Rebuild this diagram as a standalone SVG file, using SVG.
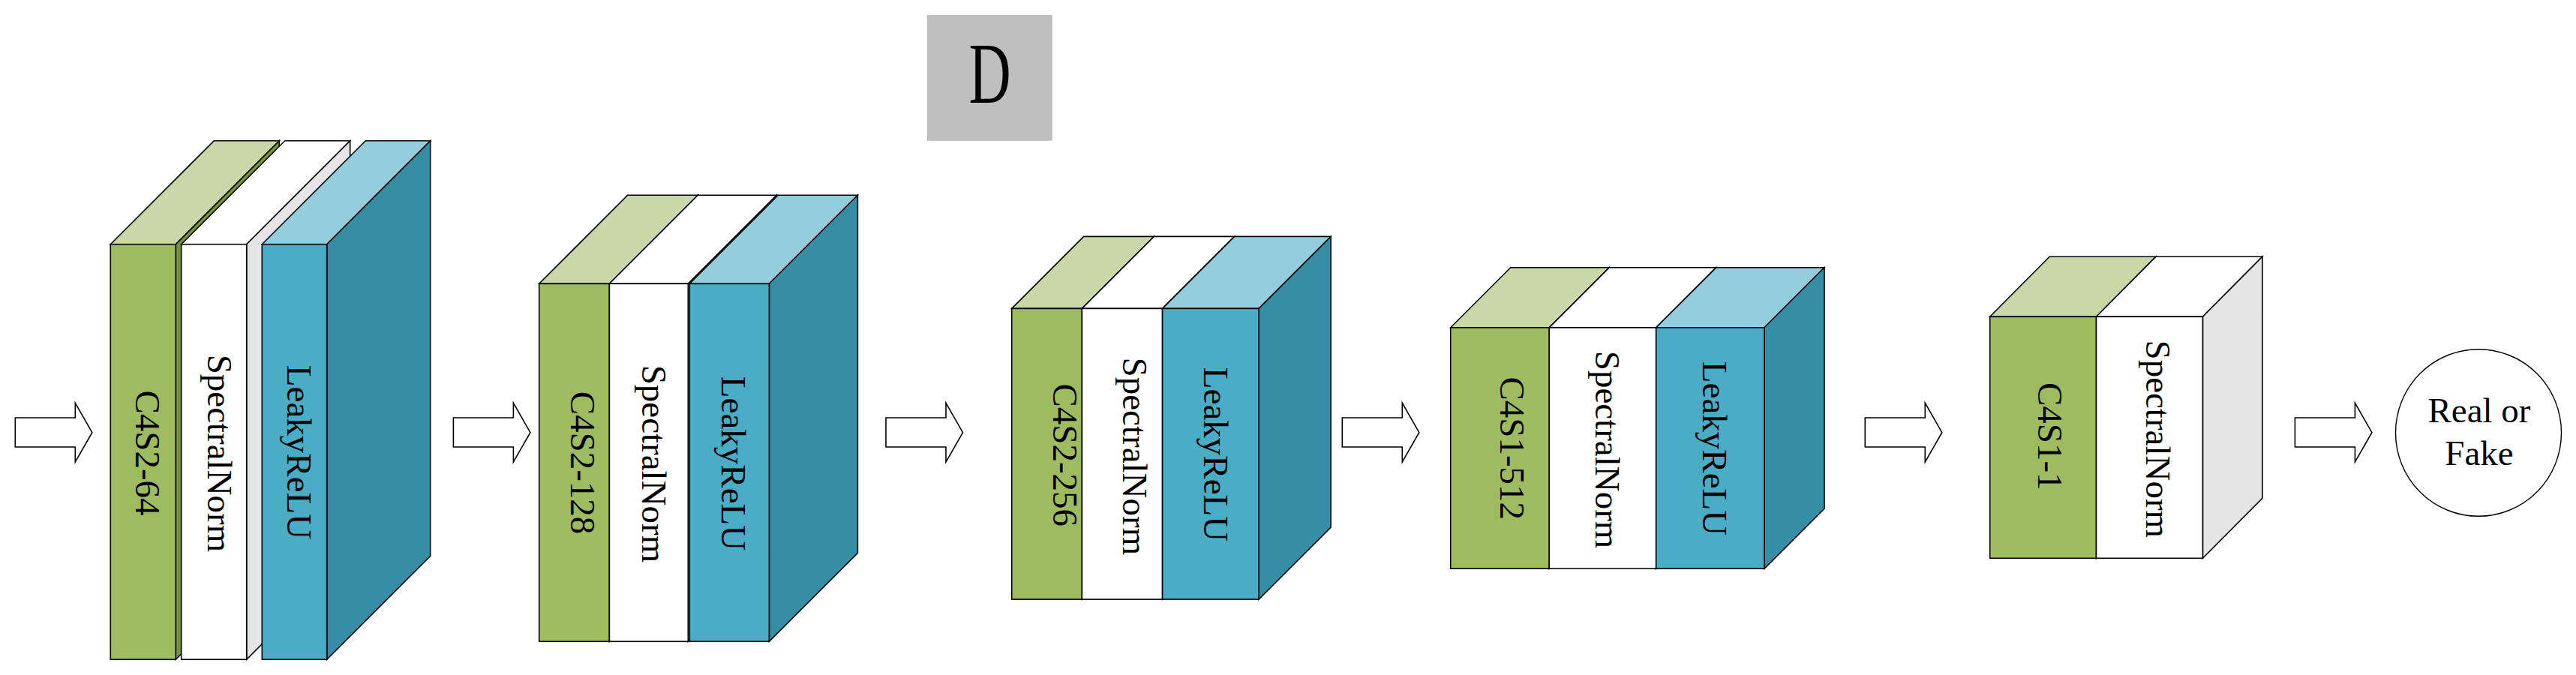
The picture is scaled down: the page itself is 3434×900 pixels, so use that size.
<svg xmlns="http://www.w3.org/2000/svg" xmlns:xlink="http://www.w3.org/1999/xlink" width="3434" height="900" viewBox="0 0 3434 900">
<style>
  .st { stroke: #000; stroke-width: 1.6; stroke-linejoin: miter; }
  .gf { fill: #9EBB60; }
  .gt { fill: #C8D8A8; }
  .gs { fill: #77933C; }
  .wf { fill: #FFFFFF; }
  .wt { fill: #FFFFFF; }
  .ws { fill: #E5E5E5; }
  .bf { fill: #4BACC6; }
  .bt { fill: #94CEDC; }
  .bs { fill: #368EA6; }
  .lbl { font-family: "Liberation Serif", "Times New Roman", serif; font-size: 47px; fill: #000; text-anchor: middle; }
  .arrow { fill: #FFFFFF; stroke: #000; stroke-width: 1.6; }
</style>
<defs>
  <path id="blockArrow" d="M0,0 H80 V-19.7 L102.5,19.7 L80,59 V39 H0 Z"/>
</defs>
<rect width="3434" height="900" fill="#FFFFFF"/>

<g id="title">
  <rect x="1236" y="20" width="166.7" height="167.7" fill="#BFBFBF"/>
  <text class="lbl" transform="translate(1319.5,136.7) scale(0.67,1)" style="font-size:116px">D</text>
</g>

<g id="connectors">
  <use xlink:href="#blockArrow" class="arrow" x="20.3" y="557"/>
  <use xlink:href="#blockArrow" class="arrow" x="604.4" y="557"/>
  <use xlink:href="#blockArrow" class="arrow" x="1181" y="557"/>
  <use xlink:href="#blockArrow" class="arrow" x="1789.3" y="557"/>
  <use xlink:href="#blockArrow" class="arrow" x="2486.3" y="557"/>
  <use xlink:href="#blockArrow" class="arrow" x="3059.4" y="557"/>
</g>

<g id="block1">
  <polygon class="gt st" points="147.3,325.7 285.3,187.7 372.3,187.7 234.3,325.7"/>
  <polygon class="gs st" points="234.3,325.7 372.3,187.7 372.3,741.3 234.3,879.3"/>
  <rect class="gf st" x="147.3" y="325.7" width="87" height="553.6"/>
  <polygon class="wt st" points="241.7,325.7 379.7,187.7 466.7,187.7 328.7,325.7"/>
  <polygon class="ws st" points="328.7,325.7 466.7,187.7 466.7,741.3 328.7,879.3"/>
  <rect class="wf st" x="241.7" y="325.7" width="87" height="553.6"/>
  <polygon class="bt st" points="349.3,325.7 487.3,187.7 573.7,187.7 435.7,325.7"/>
  <polygon class="bs st" points="435.7,325.7 573.7,187.7 573.7,741.3 435.7,879.3"/>
  <rect class="bf st" x="349.3" y="325.7" width="86.4" height="553.6"/>
  <text class="lbl" transform="translate(181,604) rotate(90)">C4S2-64</text>
  <text class="lbl" transform="translate(276.7,604.5) rotate(90)">SpectralNorm</text>
  <text class="lbl" transform="translate(382.7,603) rotate(90)">LeakyReLU</text>
</g>

<g id="block2">
  <polygon class="gt st" points="718.7,378.3 836.7,260.3 930.4,260.3 812.4,378.3"/>
  <polygon class="gs st" points="812.4,378.3 930.4,260.3 930.4,737.3 812.4,855.3"/>
  <rect class="gf st" x="718.7" y="378.3" width="93.7" height="477"/>
  <polygon class="wt st" points="812.4,378.3 930.4,260.3 1035.3,260.3 917.3,378.3"/>
  <polygon class="ws st" points="917.3,378.3 1035.3,260.3 1035.3,737.3 917.3,855.3"/>
  <rect class="wf st" x="812.4" y="378.3" width="104.9" height="477"/>
  <polygon class="bt st" points="919.3,378.3 1037.3,260.3 1143.4,260.3 1025.4,378.3"/>
  <polygon class="bs st" points="1025.4,378.3 1143.4,260.3 1143.4,737.3 1025.4,855.3"/>
  <rect class="bf st" x="919.3" y="378.3" width="106.1" height="477"/>
  <text class="lbl" transform="translate(761,617) rotate(90)">C4S2-128</text>
  <text class="lbl" transform="translate(855.7,618.5) rotate(90)">SpectralNorm</text>
  <text class="lbl" transform="translate(962,618) rotate(90)">LeakyReLU</text>
</g>

<g id="block3">
  <polygon class="gt st" points="1348.7,411.4 1444.7,315.4 1538.4,315.4 1442.4,411.4"/>
  <polygon class="gs st" points="1442.4,411.4 1538.4,315.4 1538.4,703.1 1442.4,799.1"/>
  <rect class="gf st" x="1348.7" y="411.4" width="93.7" height="387.7"/>
  <polygon class="wt st" points="1442.4,411.4 1538.4,315.4 1645.6,315.4 1549.6,411.4"/>
  <polygon class="ws st" points="1549.6,411.4 1645.6,315.4 1645.6,703.1 1549.6,799.1"/>
  <rect class="wf st" x="1442.4" y="411.4" width="107.2" height="387.7"/>
  <polygon class="bt st" points="1549.6,411.4 1645.6,315.4 1774.1,315.4 1678.1,411.4"/>
  <polygon class="bs st" points="1678.1,411.4 1774.1,315.4 1774.1,703.1 1678.1,799.1"/>
  <rect class="bf st" x="1549.6" y="411.4" width="128.5" height="387.7"/>
  <text class="lbl" transform="translate(1403.6,606.7) rotate(90)">C4S2-256</text>
  <text class="lbl" transform="translate(1497.3,608.4) rotate(90)">SpectralNorm</text>
  <text class="lbl" transform="translate(1604.5,606) rotate(90)">LeakyReLU</text>
</g>

<g id="block4">
  <polygon class="gt st" points="1933.7,436.8 2013.7,356.8 2145.3,356.8 2065.3,436.8"/>
  <polygon class="gs st" points="2065.3,436.8 2145.3,356.8 2145.3,678.2 2065.3,758.2"/>
  <rect class="gf st" x="1933.7" y="436.8" width="131.6" height="321.4"/>
  <polygon class="wt st" points="2065.3,436.8 2145.3,356.8 2287.7,356.8 2207.7,436.8"/>
  <polygon class="ws st" points="2207.7,436.8 2287.7,356.8 2287.7,678.2 2207.7,758.2"/>
  <rect class="wf st" x="2065.3" y="436.8" width="142.4" height="321.4"/>
  <polygon class="bt st" points="2207.7,436.8 2287.7,356.8 2432,356.8 2352,436.8"/>
  <polygon class="bs st" points="2352,436.8 2432,356.8 2432,678.2 2352,758.2"/>
  <rect class="bf st" x="2207.7" y="436.8" width="144.3" height="321.4"/>
  <text class="lbl" transform="translate(2000,597.7) rotate(90)">C4S1-512</text>
  <text class="lbl" transform="translate(2126.5,599.6) rotate(90)">SpectralNorm</text>
  <text class="lbl" transform="translate(2270.4,598) rotate(90)">LeakyReLU</text>
</g>

<g id="block5">
  <polygon class="gt st" points="2652.7,422.3 2732.2,342.3 2874,342.3 2794.5,422.3"/>
  <polygon class="gs st" points="2794.5,422.3 2874,342.3 2874,664.3 2794.5,744.3"/>
  <rect class="gf st" x="2652.7" y="422.3" width="141.8" height="322"/>
  <polygon class="wt st" points="2794.5,422.3 2874,342.3 3015.9,342.3 2936.4,422.3"/>
  <polygon class="ws st" points="2936.4,422.3 3015.9,342.3 3015.9,664.3 2936.4,744.3"/>
  <rect class="wf st" x="2794.5" y="422.3" width="141.9" height="322"/>
  <text class="lbl" transform="translate(2716.7,581.7) rotate(90)">C4S1-1</text>
  <text class="lbl" transform="translate(2861,585.3) rotate(90)">SpectralNorm</text>
</g>

<g id="output">
  <ellipse cx="3304" cy="577" rx="110.5" ry="111.3" fill="#FFFFFF" stroke="#000" stroke-width="1.4"/>
  <text class="lbl" x="3305" y="563.3">Real or</text>
  <text class="lbl" x="3305" y="620">Fake</text>
</g>
</svg>
